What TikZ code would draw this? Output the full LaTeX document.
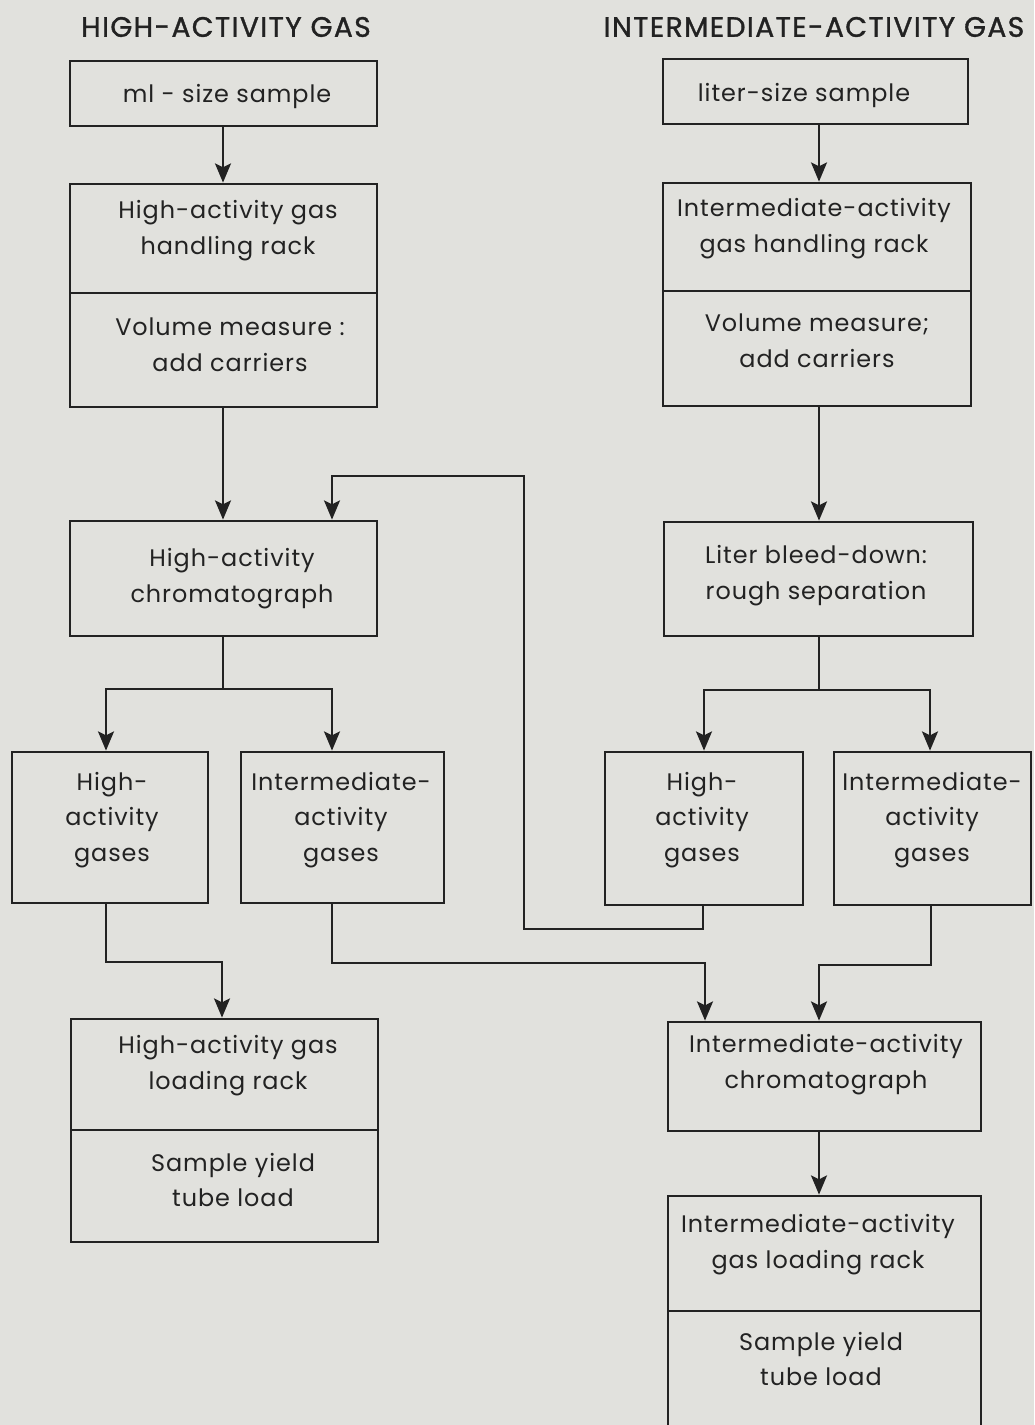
\documentclass[tikz,border=0pt]{standalone}
\usepackage{fontspec}
\setmainfont{Poppins}[LetterSpace=4]
\newfontfamily\ttlfont{Poppins}[LetterSpace=5, FakeBold=1.2]
\usetikzlibrary{arrows.meta,fit}
\definecolor{bg}{HTML}{E1E1DD}
\definecolor{ink}{HTML}{222222}
\tikzset{
  box/.style={draw=ink, line width=2pt, inner sep=0pt},
  lbl/.style={text=ink, font=\fontsize{17}{25.5}\selectfont, align=center, inner sep=0pt},
  ttl/.style={text=ink, font=\ttlfont\fontsize{20}{24}\selectfont, inner sep=0pt},
  con/.style={draw=ink, line width=1.5pt},
  arr/.style={con, -{Stealth[length=0.48cm,width=0.4cm,inset=0.1cm]}},
}
\begin{document}
\begin{tikzpicture}[x=0.025cm,y=-0.025cm]
\useasboundingbox (0,0) rectangle (1034,1425);
\fill[bg] (0,0) rectangle (1034,1425);
\clip (0,0) rectangle (1034,1425);

% titles
\node[ttl] (T1) at (226,27) {HIGH-ACTIVITY GAS};
\node[ttl] (T2) at (814,27) {INTERMEDIATE-ACTIVITY GAS};

% left column boxes
\node[box, fit={(70,61) (377,126)}] (A1) {};
\node[box, fit={(70,184) (377,293)}] (A2t) {};
\node[box, fit={(70,293) (377,407)}] (A2b) {};
\node[box, fit={(70,521) (377,636)}] (A3) {};
\node[box, fit={(12,752) (208,903)}] (A4) {};
\node[box, fit={(241,752) (444,903)}] (A5) {};
\node[box, fit={(71,1019) (378,1130)}] (A6t) {};
\node[box, fit={(71,1130) (378,1242)}] (A6b) {};

% right column boxes
\node[box, fit={(663,59) (968,124)}] (B1) {};
\node[box, fit={(663,183) (971,291)}] (B2t) {};
\node[box, fit={(663,291) (971,406)}] (B2b) {};
\node[box, fit={(664,522) (973,636)}] (B3) {};
\node[box, fit={(605,752) (803,905)}] (B4) {};
\node[box, fit={(834,752) (1031,905)}] (B5) {};
\node[box, fit={(668,1022) (981,1131)}] (B6) {};
\node[box, fit={(668,1196) (981,1311)}] (B7t) {};
\node[box, fit={(668,1311) (981,1440)}] (B7b) {};

% labels
\node[lbl] (A1l) at (227,97) {ml - size sample};
\node[lbl] (A2tl) at (228,231) {High-activity gas\\handling rack};
\node[lbl] (A2bl) at (230,345) {Volume measure :\\add carriers};
\node[lbl] (A3l) at (232,579) {High-activity\\chromatograph};
\node[lbl] (A4l) at (112,820) {High-\\activity\\gases};
\node[lbl] (A5l) at (341,820) {Intermediate-\\activity\\gases};
\node[lbl] (A6tl) at (228,1066) {High-activity gas\\loading rack};
\node[lbl] (A6bl) at (233,1180) {Sample yield\\tube load};

\node[lbl] (B1l) at (804,96) {liter-size sample};
\node[lbl] (B2tl) at (814,229) {Intermediate-activity\\gas handling rack};
\node[lbl] (B2bl) at (817,341) {Volume measure;\\add carriers};
\node[lbl] (B3l) at (816,576) {Liter bleed-down:\\rough separation};
\node[lbl] (B4l) at (702,820) {High-\\activity\\gases};
\node[lbl] (B5l) at (932,820) {Intermediate-\\activity\\gases};
\node[lbl] (B6l) at (826,1065) {Intermediate-activity\\chromatograph};
\node[lbl] (B7tl) at (818,1245) {Intermediate-activity\\gas loading rack};
\node[lbl] (B7bl) at (821,1359) {Sample yield\\tube load};

% junction / bend coordinates
\coordinate (jA) at (223,689);
\coordinate (jB) at (819,690);
\coordinate (kA) at (222,962);
\coordinate (kC) at (705,963);
\coordinate (kB) at (819,965);
\coordinate (fb1) at (524,929);
\coordinate (fb2) at (524,476);

% left connectors
\draw[arr] (223,0 |- A1.south) -- (223,0 |- A2t.north);
\draw[arr] (223,0 |- A2b.south) -- (223,0 |- A3.north);
\draw[con] (223,0 |- A3.south) -- (jA);
\draw[arr] (jA) -| (106,0 |- A4.north);
\draw[arr] (jA) -| (332,0 |- A5.north);
\draw[arr] (106,0 |- A4.south) |- (kA) -- (222,0 |- A6t.north);
\draw[arr] (332,0 |- A5.south) |- (kC) -- (705,0 |- B6.north);

% right connectors
\draw[arr] (819,0 |- B1.south) -- (819,0 |- B2t.north);
\draw[arr] (819,0 |- B2b.south) -- (819,0 |- B3.north);
\draw[con] (819,0 |- B3.south) -- (jB);
\draw[arr] (jB) -| (704,0 |- B4.north);
\draw[arr] (jB) -| (930,0 |- B5.north);
\draw[arr] (931,0 |- B5.south) |- (kB) -- (819,0 |- B6.north);
\draw[arr] (819,0 |- B6.south) -- (819,0 |- B7t.north);

% feedback from right high-activity gases to left chromatograph
\draw[arr] (703,0 |- B4.south) |- (fb1) -- (fb2) -| (332,0 |- A3.north);
\end{tikzpicture}
\end{document}
